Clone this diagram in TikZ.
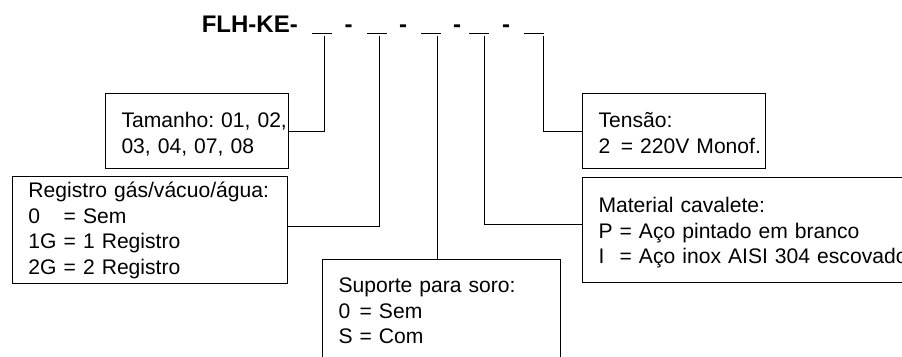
\documentclass[tikz,border=0pt]{standalone}
\usepackage{fontspec}
\setmainfont{Liberation Sans}
\usetikzlibrary{positioning}

\tikzstyle{box} = [rectangle, draw, line width=1pt, anchor=north west, inner sep=0pt, align=left, font=\fontsize{21.1}{25.5}\selectfont, execute at begin node={\frenchspacing\leftskip=16pt\rightskip=-30pt plus 1fil}]
\tikzstyle{code} = [inner sep=0pt, anchor=base, font=\fontsize{24}{24}\selectfont\bfseries]
\tikzstyle{blank} = [inner sep=0pt, minimum width=19pt, minimum height=0pt]
\tikzstyle{line} = [draw, line width=0.9pt]

\begin{document}
\begin{tikzpicture}[x=1pt, y=-1pt]
    \clip (0,0) rectangle (902,356);

    % code
    \node[code, anchor=base east] (name) at (298,32) {FLH-KE-};
    \node[blank] (b1) at (322,33) {};
    \node[code] (d1) at (348.5,32) {-};
    \node[blank] (b2) at (377,33) {};
    \node[code] (d2) at (403,32) {-};
    \node[blank] (b3) at (431,33) {};
    \node[code] (d3) at (457,32) {-};
    \node[blank] (b4) at (479,33) {};
    \node[code] (d4) at (506,32) {-};
    \node[blank] (b5) at (534,33) {};
    \foreach \i in {1,...,5}
        \draw[line] (b\i.west) -- (b\i.east);

    \coordinate (s1) at (324,36);
    \coordinate (s2) at (379,36);
    \coordinate (s3) at (437.5,36);
    \coordinate (s4) at (484,36);
    \coordinate (s5) at (543.5,36);

    % boxes
    \node[box, text width=183pt, text height=34pt, text depth=41pt] (tam) at (105,93) {Tamanho: 01, 02,\\03, 04, 07, 08};
    \node[box, text width=275pt, text height=21pt, text depth=86pt] (reg) at (12,176) {Registro gás/vácuo/água:\\0\hphantom{G} = Sem\\1G = 1 Registro\\2G = 2 Registro};
    \node[box, text width=238pt, text height=33pt, text depth=100pt] (sup) at (322,259) {Suporte para soro:\\\makebox[0.667em][l]{0} = Sem\\S = Com};
    \node[box, text width=183pt, text height=34pt, text depth=41pt] (ten) at (582,93) {Tensão:\\2\enspace= 220V Monof.};
    \node[box, text width=340pt, text height=35pt, text depth=70pt] (mat) at (582,177) {Material cavalete:\\P = Aço pintado em branco\\\makebox[0.667em][l]{I} = Aço inox AISI 304 escovado};

    % lines
    \draw[line] (s1) |- (tam.east);
    \draw[line] (s2) |- ([yshift=4pt]reg.east);
    \draw[line] (s3) -- (s3 |- sup.north);
    \draw[line] (s4) |- ([yshift=6pt]mat.west);
    \draw[line] (s5) |- (ten.west);
\end{tikzpicture}
\end{document}
